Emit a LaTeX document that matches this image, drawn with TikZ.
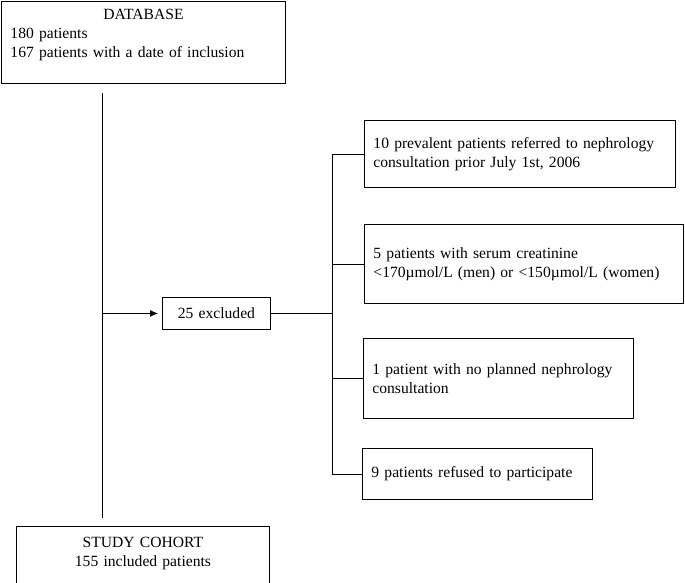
\documentclass[tikz,border=0pt]{standalone}
\usepackage{fontspec}
\setmainfont{Liberation Serif}
\usepackage{tikz}
\usetikzlibrary{arrows.meta}

\tikzset{
    exbox/.style={draw,line width=0.9pt,anchor=north west,inner xsep=9pt,inner ysep=0pt,align=left,font=\fontsize{15.6}{19}\selectfont},
}

\begin{document}
\begin{tikzpicture}[x=1pt,y=-1pt,line width=0.9pt]
        \useasboundingbox (0,0) rectangle (685,583);
        \node[exbox,text width=266,minimum height=82](db)at(1,1){\centering DATABASE\par\raggedright 180 patients\\167 patients with a date of inclusion\\~};
        \node[exbox,align=center,text width=235,minimum height=70](cohort)at(16,526){STUDY COHORT\\155 included patients\\~};
        \node[exbox,align=center,inner xsep=0pt,text width=108,minimum height=32](excl)at(162,297){25 excluded};
        \node[exbox,text width=293,minimum height=67](b1)at(364,120){10 prevalent patients referred to nephrology\\consultation prior July 1st, 2006};
        \node[exbox,text width=301,minimum height=79](b2)at(364,224){5 patients with serum creatinine\\<170µmol/L (men) or <150µmol/L (women)};
        \node[exbox,text width=252,minimum height=80](b3)at(363,338){1 patient with no planned nephrology\\consultation};
        \node[exbox,text width=212,minimum height=51](b4)at(362,448){9 patients refused to participate};
        \coordinate (top) at (102,93);
        \coordinate (bot) at (102,518);
        \coordinate (bx) at (332,0);
        \draw (top)--(bot);
        \draw[-{Latex[length=8pt,width=7pt]},shorten >=4pt](top|-excl.west)--(excl.west);
        \draw (excl.east)--(bx|-excl.east);
        \draw (bx|-b1.west)--(bx|-b4.west);
        \draw (bx|-b1.west)--(b1.west);
        \draw (bx|-b2.west)--(b2.west);
        \draw (bx|-b3.west)--(b3.west);
        \draw (bx|-b4.west)--(b4.west);
    \end{tikzpicture}
\end{document}
